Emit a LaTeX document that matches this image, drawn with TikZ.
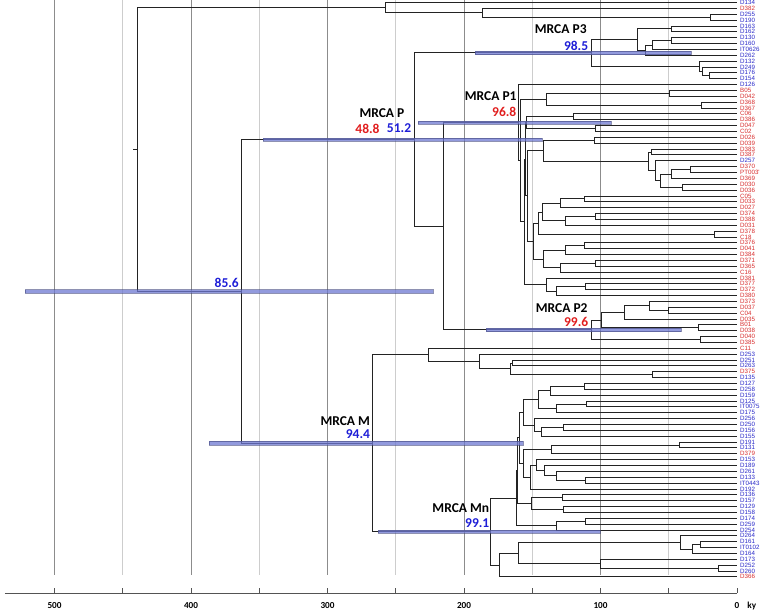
\documentclass[tikz,border=0pt]{standalone}
\usepackage{fontspec}
\newfontfamily\leaffont{Liberation Sans}
\newfontfamily\calfont{Carlito}
\usetikzlibrary{calc}
\definecolor{lb}{RGB}{40,40,200}
\definecolor{lr}{RGB}{215,45,45}
\definecolor{numblue}{RGB}{30,30,215}
\definecolor{numred}{RGB}{225,30,30}
\definecolor{barblue}{RGB}{110,120,210}
\definecolor{gridmajor}{RGB}{140,140,140}
\definecolor{gridminor}{RGB}{205,205,205}
\definecolor{branchcol}{RGB}{35,35,35}
\tikzset{
  branch/.style={draw=branchcol, line width=0.75pt},
  leaf/.style={anchor=west, inner sep=0pt, xshift=3pt, font=\leaffont\fontsize{6.2}{6.2}\selectfont},
  mrca/.style={font=\calfont\bfseries\fontsize{13.5}{14}\selectfont, inner sep=0pt},
  hpd/.style={fill=barblue, fill opacity=0.75, draw=barblue!60!black, draw opacity=0.6, line width=0.3pt},
  gridmaj/.style={draw=gridmajor, line width=0.6pt},
  gridmin/.style={draw=gridminor, line width=0.6pt},
  axislbl/.style={font=\calfont\bfseries\fontsize{9.2}{10}\selectfont, inner sep=0pt},
}
% a clade: name, age (ky), two children
\newcommand{\clade}[4]{%
  \path let \p1=($(#3)!.5!(#4)$) in ({-1.365*#2pt},\y1) coordinate (#1);
  \draw[branch] (#1) |- (#3) (#1) |- (#4);}
% 95% HPD bar of a node: node, from, to (ky)
\newcommand{\hpdbar}[3]{%
  \path[hpd] (#2,0 |- #1) ++(0,-0.3) rectangle ++({#3-#2},0.6);}

\begin{document}
\begin{tikzpicture}[x=-1.365pt, y=-5.86pt]
  \useasboundingbox (539.93,0.5734) rectangle (-18.315,104.84);

  % time grid
  \foreach \t in {100,200,...,500} \draw[gridmaj] (\t,0.5734) -- (\t,98.7);
  \foreach \t in {50,150,...,450} \draw[gridmin] (\t,0.5734) -- (\t,98.7);

  % axis
  \draw[line width=0.7pt, draw=gridmajor!60!black] (536.3,101.77) coordinate (ax0) -- (0,101.77) coordinate (ax1);
  \foreach \t in {0,50,...,500} \draw[line width=0.6pt, draw=gridmajor!60!black] (\t,101.77) -- (\t,100.95);
  \foreach \t in {0,100,...,500} \node[axislbl] (tick\t) at (\t,103.98) {\t};
  \node[axislbl, anchor=west] (unit) at (-7.5,103.98) {ky};

  % tips
  \foreach \nm/\cl [count=\i] in {D134/lb, D382/lr, D255/lb, D190/lb, D163/lb, D162/lb, D130/lb,
    D160/lb, IT0626/lb, D262/lb, D132/lb, D249/lb, D176/lb, D154/lb, D126/lb, B05/lr, D042/lr,
    D368/lr, D367/lr, C06/lr, D386/lr, D047/lr, C02/lr, D026/lr, D039/lr, D383/lr, D387/lr,
    D257/lb, D370/lr, PT003'/lr, D369/lr, D030/lr, D036/lr, C05/lr, D033/lr, D027/lr, D374/lr,
    D388/lr, D031/lr, D378/lr, C18/lr, D376/lr, D041/lr, D384/lr, D371/lr, D365/lr, C16/lr,
    D381/lr, D377/lr, D372/lr, D380/lr, D373/lr, D037/lr, C04/lr, D035/lr, B01/lr, D038/lr,
    D040/lr, D385/lr, C11/lr, D253/lb, D251/lb, D263/lb, D375/lr, D135/lb, D127/lb, D258/lb,
    D159/lb, D125/lb, IT0075/lb, D175/lb, D256/lb, D250/lb, D156/lb, D155/lb, D191/lb, D131/lb,
    D379/lr, D153/lb, D189/lb, D261/lb, D133/lb, IT0443/lb, D192/lb, D136/lb, D157/lb, D129/lb,
    D158/lb, D174/lb, D259/lb, D254/lb, D264/lb, D161/lb, IT0102/lb, D164/lb, D173/lb, D252/lb,
    D260/lb, D366/lr} {
    \coordinate (L\i) at (0,\i);
    \node[leaf, text=\cl] (tip\i) at (L\i) {\nm};
  }

  % clade A
  \clade{a1}{19.3}{L3}{L4}
  \clade{a2}{186.8}{L2}{a1}
  \clade{cA}{257.4}{L1}{a2}

  % P3
  \clade{p3a}{48.4}{L5}{L6}
  \clade{p3b}{48.4}{L7}{L8}
  \clade{p3c}{61.8}{p3b}{L9}
  \clade{p3d}{67.4}{p3c}{L10}
  \clade{p3e}{72.9}{p3a}{p3d}
  \clade{p3f}{20.5}{L13}{L14}
  \clade{p3g}{25.6}{L12}{p3f}
  \clade{p3h}{27.8}{L11}{p3g}
  \clade{P3}{107.0}{p3e}{p3h}

  % P1
  \clade{b1}{49.8}{L16}{L17}
  \clade{b2}{25.9}{L18}{L19}
  \clade{b3}{139.4}{b1}{b2}
  \clade{c1}{119.9}{L20}{L21}
  \clade{c2}{104.0}{L22}{L23}
  \clade{c3}{104.8}{L24}{L25}
  \clade{e1}{39.8}{L32}{L33}
  \clade{e2}{34.4}{L29}{L30}
  \clade{e3}{48.4}{e2}{L31}
  \clade{e4}{56.4}{e3}{e1}
  \clade{e5}{60.1}{L28}{e4}
  \clade{e6}{62.5}{L26}{L27}
  \clade{e7}{65.2}{e6}{e5}
  \clade{e8}{141.9}{c3}{e7}
  \clade{x1}{111.9}{L34}{L35}
  \clade{x2}{129.7}{x1}{L36}
  \clade{x3}{104}{L37}{L38}
  \clade{x4}{126}{x3}{L39}
  \clade{x6}{142.3}{x2}{x4}
  \clade{x5}{16.8}{L40}{L41}
  \clade{x7}{145.6}{x6}{x5}
  \clade{y1}{112.1}{L42}{L43}
  \clade{y2}{125.5}{y1}{L44}
  \clade{y3}{104}{L45}{L46}
  \clade{y4}{129.2}{y3}{L47}
  \clade{x8}{141.7}{y2}{y4}
  \clade{xx}{149.2}{x7}{x8}
  \clade{z1}{110.8}{L49}{L50}
  \clade{z2}{132.1}{z1}{L51}
  \clade{zz}{139.4}{L48}{z2}
  \clade{kc1}{154.1}{c1}{c2}
  \clade{kc2}{153.8}{e8}{xx}
  \clade{kc}{155.3}{kc1}{kc2}
  \clade{k2}{156}{kc}{zz}
  \clade{k1}{159}{b3}{k2}
  \clade{P1}{160.2}{L15}{k1}

  % P2
  \clade{f1}{50.3}{L53}{L54}
  \clade{f2}{64.2}{L52}{f1}
  \clade{f3}{82.6}{f2}{L55}
  \clade{f4}{28.4}{L56}{L57}
  \clade{f5}{99.1}{f3}{f4}
  \clade{f6}{26.6}{L58}{L59}
  \clade{P2}{106.4}{f5}{f6}

  % M, upper part
  \clade{g1}{62.1}{L64}{L65}
  \clade{g2}{164.8}{L62}{L63}
  \clade{g3}{166.3}{g2}{g1}
  \clade{g4}{188.8}{L61}{g3}
  \clade{g5}{225.9}{L60}{g4}

  % Mn
  \clade{m1}{112}{L66}{L67}
  \clade{m2}{137}{m1}{L68}
  \clade{m3}{110}{L69}{L70}
  \clade{m4}{132}{m3}{L71}
  \clade{m5}{145.8}{m2}{m4}
  \clade{m6}{127}{L73}{L74}
  \clade{m7}{143}{m6}{L75}
  \clade{m8}{148.7}{L72}{m7}
  \clade{w1}{156.5}{m5}{m8}
  \clade{m9}{42.5}{L76}{L77}
  \clade{m10}{136.3}{m9}{L78}
  \clade{m13}{110.8}{L82}{L83}
  \clade{m14}{132.6}{L81}{m13}
  \clade{m15}{141.2}{L80}{m14}
  \clade{m16}{146.7}{L79}{m15}
  \clade{m17}{151.6}{m16}{L84}
  \clade{w2}{156.8}{m10}{m17}
  \clade{w}{159.7}{w1}{w2}
  \clade{m18}{128}{L85}{L86}
  \clade{m19}{127.3}{L87}{L88}
  \clade{z}{150.9}{m18}{m19}
  \clade{v}{160.8}{w}{z}
  \clade{m21}{110.8}{L89}{L90}
  \clade{gg}{132.6}{m21}{L91}
  \clade{u}{161.9}{v}{gg}
  \clade{h1}{26.6}{L93}{L94}
  \clade{h2}{32.5}{h1}{L95}
  \clade{h3}{41.8}{L92}{h2}
  \clade{h4}{13.7}{L97}{L98}
  \clade{h5}{99.9}{L96}{h4}
  \clade{h6}{160.2}{h3}{h5}
  \clade{h7}{174.1}{h6}{L99}
  \clade{Mn}{180.4}{u}{h7}

  % deep nodes
  \clade{M}{266.9}{g5}{Mn}
  \clade{Q}{215.2}{P1}{P2}
  \clade{P}{236.6}{P3}{Q}
  \clade{N}{363.4}{P}{M}
  \clade{root}{439}{cA}{N}
  \draw[branch] (root) -- ++(3.5,0);

  % HPD bars
  \hpdbar{N}{521.6}{222.5}
  \hpdbar{P}{347.3}{142.9}
  \hpdbar{P3}{191.9}{33.9}
  \hpdbar{P1}{233.7}{92.5}
  \hpdbar{P2}{183.9}{41.2}
  \hpdbar{M}{386.6}{157}
  \hpdbar{Mn}{262.8}{100.4}

  % node labels
  \node[mrca, text=numblue] (vN) at (373.8,48.8) {85.6};
  \node[mrca] (tP) at (260.1,19.9) {MRCA P};
  \node[mrca, text=numred] (vP1a) at (270.7,22.5) {48.8};
  \node[mrca, text=numblue] (vP1b) at (247.6,22.5) {51.2};
  \node[mrca] (tP3) at (129.1,5.57) {MRCA P3};
  \node[mrca, text=numblue] (vP3) at (117.9,8.37) {98.5};
  \node[mrca] (tP1) at (180.4,16.96) {MRCA P1};
  \node[mrca, text=numred] (vP1) at (170.5,19.7) {96.8};
  \node[mrca] (tP2) at (128.4,53.2) {MRCA P2};
  \node[mrca, text=numred] (vP2) at (117.8,55.5) {99.6};
  \node[mrca] (tM) at (287,72.5) {MRCA M};
  \node[mrca, text=numblue] (vM) at (277.7,74.6) {94.4};
  \node[mrca] (tMn) at (202.3,87.3) {MRCA Mn};
  \node[mrca, text=numblue] (vMn) at (190.3,89.8) {99.1};
\end{tikzpicture}
\end{document}
